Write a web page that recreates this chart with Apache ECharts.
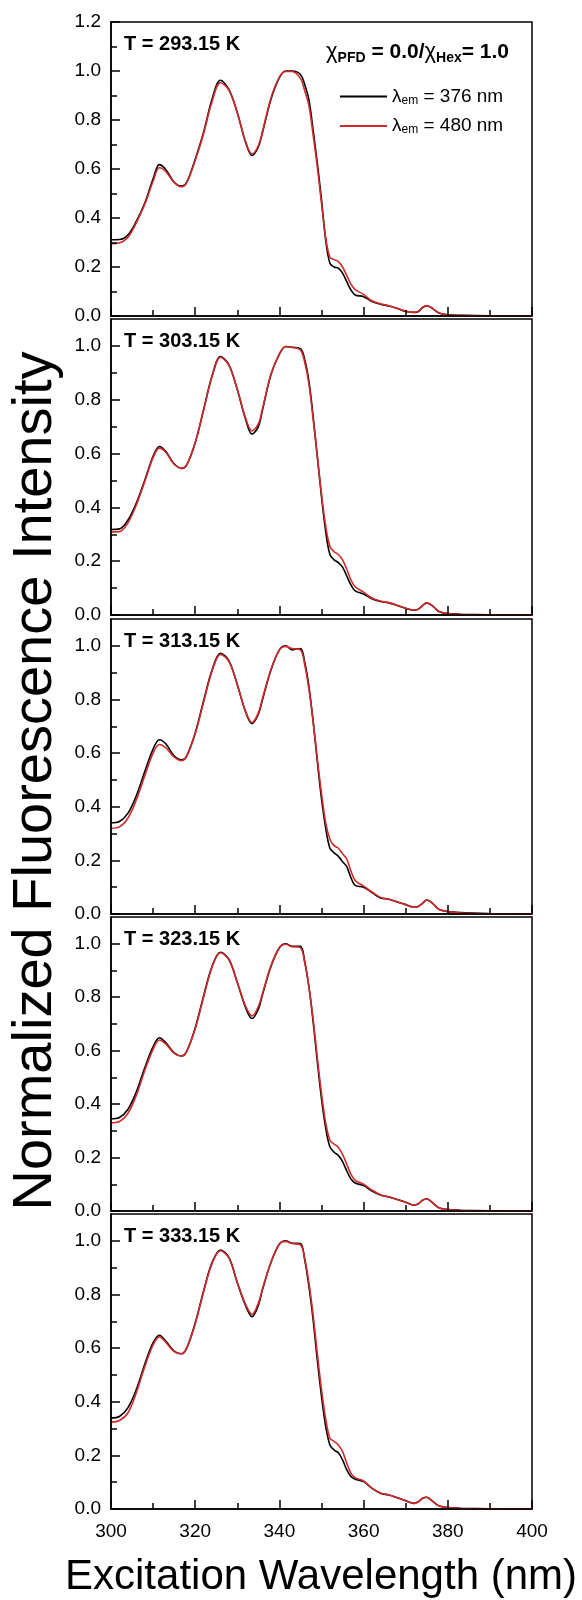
<!DOCTYPE html>
<html>
<head>
<meta charset="utf-8">
<script src="https://cdn.jsdelivr.net/npm/echarts@6/dist/echarts.min.js"></script>
<style>
  html, body { margin: 0; padding: 0; background: #fff; }
  #chart { width: 582px; height: 1600px; }
</style>
</head>
<body>
<div id="chart"></div>
<script>
// excitation wavelength (nm)
const xs = [300, 302, 304, 306, 308, 310, 311.5, 313, 315, 316.8, 318, 320, 322, 324, 326, 328, 330, 332,
  333.5, 335, 336, 338, 340, 341.5, 343, 345, 346, 347, 348, 349, 350, 351, 352, 353, 354, 355, 356, 357, 358,
  360, 362, 364, 366, 368, 370, 372, 373, 374, 375, 376, 377, 378, 380, 383, 390, 400];

// panel labels
const temps = ['T = 293.15 K', 'T = 303.15 K', 'T = 313.15 K', 'T = 323.15 K', 'T = 333.15 K'];

// y axis top of each panel and tick labels
const yMax = [1.2, 1.1, 1.1, 1.1, 1.1];
const yMajor = [[0, 0.2, 0.4, 0.6, 0.8, 1.0, 1.2], [0, 0.2, 0.4, 0.6, 0.8, 1.0], [0, 0.2, 0.4, 0.6, 0.8, 1.0],
  [0, 0.2, 0.4, 0.6, 0.8, 1.0], [0, 0.2, 0.4, 0.6, 0.8, 1.0]];
const yMinor = [[0.1, 0.3, 0.5, 0.7, 0.9, 1.1], [0.1, 0.3, 0.5, 0.7, 0.9], [0.1, 0.3, 0.5, 0.7, 0.9],
  [0.1, 0.3, 0.5, 0.7, 0.9], [0.1, 0.3, 0.5, 0.7, 0.9]];

// λem = 376 nm (black)
const b293 = [.311, .312, .33, .386, .46, .56, .618, .598, .546, .53, .546, .64, .75, .885, .962, .925, .83, .707,
  .655, .69, .75, .885, .973, 1.0, 1.0, .986, .945, .884, .76, .625, .475, .31, .215, .20, .195, .175, .14, .106, .086,
  .079, .059, .048, .041, .031, .018, .015, .018, .034, .042, .035, .022, .011, .005, .003, .001, 0];
const b303 = [.318, .32, .352, .415, .50, .59, .626, .608, .562, .545, .558, .64, .763, .888, .96, .93, .838, .726,
  .672, .70, .763, .894, .969, .998, .995, .99, .95, .87, .74, .59, .44, .31, .225, .205, .195, .178, .145, .112, .09,
  .078, .06, .05, .045, .035, .025, .018, .022, .035, .045, .038, .025, .012, .005, .003, .001, 0];
const b313 = [.34, .345, .375, .44, .53, .615, .65, .635, .59, .575, .59, .675, .795, .91, .972, .945, .855, .752,
  .71, .745, .8, .91, .985, 1.0, .985, .99, .94, .85, .72, .57, .43, .32, .245, .228, .215, .195, .177, .135, .107,
  .1, .08, .06, .055, .045, .035, .025, .028, .04, .052, .045, .03, .017, .009, .005, .002, 0];
const b323 = [.345, .35, .38, .445, .535, .615, .648, .63, .592, .58, .598, .685, .805, .915, .968, .942, .855, .76,
  .72, .755, .81, .915, .985, 1.0, .99, .99, .935, .84, .71, .56, .42, .31, .24, .22, .208, .185, .15, .12, .105,
  .095, .075, .06, .052, .043, .033, .022, .027, .04, .046, .036, .022, .011, .005, .003, .001, 0];
const b333 = [.339, .345, .377, .445, .539, .62, .648, .626, .589, .579, .601, .694, .813, .919, .966, .938, .844, .757,
  .717, .76, .819, .919, .988, 1.0, .991, .99, .93, .832, .707, .557, .42, .308, .239, .22, .21, .183, .146, .121, .111,
  .102, .077, .059, .052, .042, .031, .021, .027, .04, .044, .034, .021, .011, .005, .003, .001, 0];

// λem = 480 nm (red)
const r293 = [.295, .298, .32, .38, .455, .55, .605, .59, .545, .527, .545, .635, .745, .875, .952, .922, .83, .71,
  .662, .695, .755, .89, .975, .998, .998, .97, .92, .86, .74, .61, .46, .32, .24, .23, .222, .2, .165, .13, .108,
  .088, .062, .05, .042, .032, .02, .015, .02, .035, .043, .036, .023, .012, .004, .002, 0, 0];
const r303 = [.309, .31, .342, .408, .495, .585, .62, .605, .56, .545, .558, .64, .762, .886, .958, .928, .838, .73,
  .684, .71, .768, .895, .97, .998, .995, .985, .94, .86, .73, .59, .45, .33, .255, .235, .225, .205, .17, .13, .105,
  .085, .063, .052, .046, .036, .025, .018, .022, .035, .045, .038, .025, .012, .005, .002, 0, 0];
const r313 = [.32, .325, .357, .425, .515, .6, .632, .62, .585, .572, .59, .672, .79, .905, .968, .942, .855, .755,
  .714, .75, .805, .912, .985, .998, .99, .985, .93, .84, .72, .58, .45, .34, .279, .255, .245, .225, .205, .16, .125,
  .104, .082, .062, .055, .045, .035, .025, .028, .04, .052, .045, .03, .017, .009, .004, .001, 0];
const r323 = [.33, .335, .365, .432, .525, .605, .64, .625, .59, .58, .598, .682, .8, .912, .966, .94, .855, .765,
  .73, .765, .815, .918, .985, .998, .99, .985, .93, .84, .72, .575, .44, .33, .265, .25, .238, .212, .175, .137, .115,
  .1, .078, .061, .053, .043, .033, .022, .027, .04, .046, .036, .022, .011, .005, .002, 0, 0];
const r333 = [.324, .33, .358, .433, .53, .612, .642, .622, .587, .579, .6, .69, .81, .915, .963, .936, .845, .762,
  .726, .768, .822, .92, .988, .998, .99, .985, .935, .845, .725, .58, .445, .335, .264, .252, .239, .214, .171, .133, .117,
  .105, .078, .06, .052, .042, .031, .021, .027, .04, .044, .034, .021, .011, .005, .002, 0, 0];

const blackSets = [b293, b303, b313, b323, b333];
const redSets = [r293, r303, r313, r323, r333];

const FONT = '"Liberation Sans", Arial, Helvetica, sans-serif';
const RED = '#d12a2a';

// panel boxes (pixels)
const panelTop = [22, 319, 619, 917, 1214];
const panelH = [294, 296, 295, 294, 295];

const pairs = (ys) => xs.map((x, j) => [x, ys[j]]);

let grids = [], xAxes = [], yAxes = [], series = [], graphics = [];

const tickStyle = { color: '#000', width: 1.5 };

panelTop.forEach((top, i) => {
  grids.push({
    left: 111, width: 421, top: top, height: panelH[i], z: 0,
    show: true, borderColor: '#000', borderWidth: 1.5,
    backgroundColor: 'rgba(0,0,0,0)', containLabel: false
  });

  xAxes.push({
    type: 'value', gridIndex: i, min: 300, max: 400, interval: 20, z: 5,
    axisLine: { show: true, onZero: false, lineStyle: { color: '#000', width: 1.5 } },
    axisTick: { show: true, inside: true, length: 9, lineStyle: tickStyle },
    minorTick: { show: true, splitNumber: 2, length: 6, lineStyle: tickStyle },
    splitLine: { show: false },
    axisLabel: {
      show: i === 4, showMinLabel: true, showMaxLabel: true,
      fontSize: 19, fontFamily: FONT, color: '#000', margin: 13
    }
  });
});

// main y axes (labels + major ticks)
panelTop.forEach((top, i) => {
  yAxes.push({
    type: 'value', gridIndex: i, min: 0, max: yMax[i], position: 'left', z: 5,
    axisLine: { show: true, onZero: false, lineStyle: { color: '#000', width: 1.5 } },
    axisTick: { show: true, inside: true, length: 9, customValues: yMajor[i], lineStyle: tickStyle },
    splitLine: { show: false },
    axisLabel: {
      customValues: yMajor[i], formatter: v => v.toFixed(1),
      fontSize: 19, fontFamily: FONT, color: '#000', margin: 10
    }
  });
});

// second y axes only for the minor ticks
panelTop.forEach((top, i) => {
  yAxes.push({
    type: 'value', gridIndex: i, min: 0, max: yMax[i], position: 'left', offset: 0, z: 5,
    axisLine: { show: false },
    axisTick: { show: true, inside: true, length: 6, customValues: yMinor[i], lineStyle: tickStyle },
    splitLine: { show: false },
    axisLabel: { show: false }
  });
});

panelTop.forEach((top, i) => {
  series.push({
    name: '376', type: 'line', xAxisIndex: i, yAxisIndex: i,
    data: pairs(blackSets[i]), showSymbol: false, symbol: 'none',
    smooth: 0.35, lineStyle: { color: '#000', width: 1.6 }, itemStyle: { color: '#000' }
  });
  series.push({
    name: '480', type: 'line', xAxisIndex: i, yAxisIndex: i,
    data: pairs(redSets[i]), showSymbol: false, symbol: 'none',
    smooth: 0.35, lineStyle: { color: RED, width: 1.6 }, itemStyle: { color: RED }
  });

  // 温度标签
  graphics.push({
    type: 'text', x: 124, y: top + 22,
    style: {
      text: temps[i], fill: '#000', fontSize: 20, fontWeight: 'bold', fontFamily: FONT,
      textVerticalAlign: 'middle'
    }
  });
});

// χPFD = 0.0/χHex= 1.0
graphics.push({
  type: 'text', x: 326, y: 39,
  style: {
    text: '{c|χ}{s|PFD}{b| = 0.0/}{c|χ}{s|Hex}{b|= 1.0}',
    rich: {
      c: { fontSize: 22, fontFamily: FONT, fill: '#000', lineHeight: 26 },
      b: { fontSize: 21, fontWeight: 'bold', fontFamily: FONT, fill: '#000', lineHeight: 26 },
      s: { fontSize: 14, fontWeight: 'bold', fontFamily: FONT, fill: '#000', lineHeight: 8, verticalAlign: 'bottom' }
    }
  }
});

// axis titles
graphics.push({
  type: 'text', x: 36, y: 781, rotation: Math.PI / 2,
  style: {
    text: 'Normalized Fluorescence Intensity', fill: '#000', fontSize: 56, fontFamily: FONT,
    textAlign: 'center', textVerticalAlign: 'middle'
  }
});
graphics.push({
  type: 'text', x: 321, y: 1577,
  style: {
    text: 'Excitation Wavelength (nm)', fill: '#000', fontSize: 42, fontFamily: FONT,
    textAlign: 'center', textVerticalAlign: 'middle'
  }
});

const chart = echarts.init(document.getElementById('chart'), null, { renderer: 'canvas' });

chart.setOption({
  backgroundColor: '#fff',
  animation: false,
  grid: grids,
  xAxis: xAxes,
  yAxis: yAxes,
  legend: {
    orient: 'vertical', left: 335, top: 82,
    icon: 'rect', itemWidth: 47, itemHeight: 2, itemGap: 10,
    data: ['376', '480'],
    formatter: name => '{l|λ}{s|em}{t| = ' + name + ' nm}',
    textStyle: {
      rich: {
        l: { fontSize: 19, fontFamily: FONT, color: '#000', lineHeight: 20 },
        s: { fontSize: 12, fontFamily: FONT, color: '#000', lineHeight: 6, verticalAlign: 'bottom' },
        t: { fontSize: 19, fontFamily: FONT, color: '#000', lineHeight: 20 }
      }
    }
  },
  series: series,
  graphic: graphics
});
</script>
</body>
</html>
